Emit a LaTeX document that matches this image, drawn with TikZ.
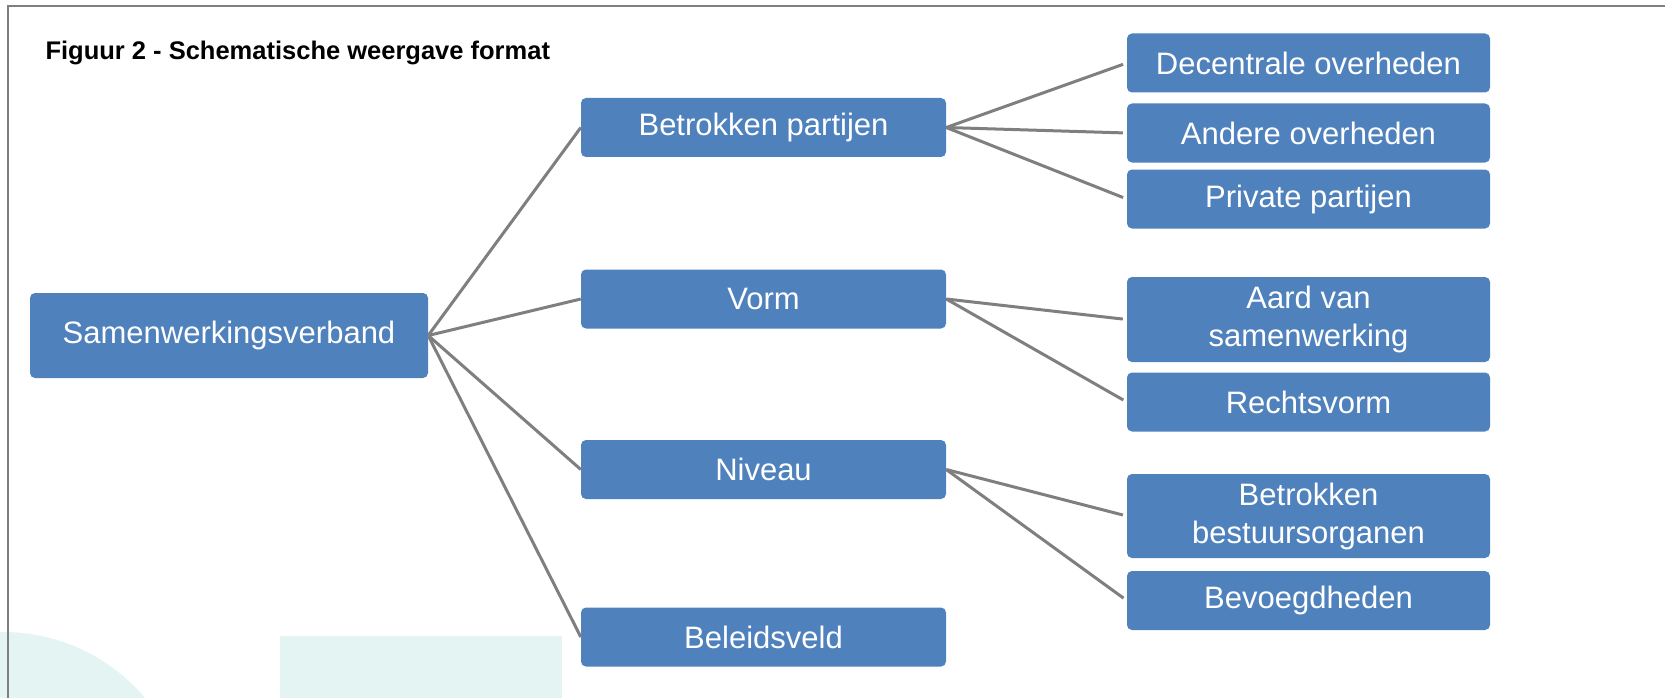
\documentclass[tikz,border=0pt]{standalone}
\usepackage{fontspec}
\setmainfont{Liberation Sans}
\usetikzlibrary{positioning}
\definecolor{boxblue}{HTML}{4F81BD}
\definecolor{linegray}{HTML}{7F7F7F}
\definecolor{bgteal}{HTML}{E3F4F2}

\begin{document}
\begin{tikzpicture}[x=1pt,y=-1pt,
  box/.style={fill=boxblue,text=white,rounded corners=5pt,inner sep=0pt,
    minimum height=59pt,align=center,font=\fontsize{31}{38}\selectfont},
  midbox/.style={box,minimum width=365pt},
  leafbox/.style={box,minimum width=363pt},
  link/.style={draw=linegray,line width=3pt}]
  \clip (0,0) rectangle (1665,698);
  % faint shapes in the background
  \fill[bgteal] (3,818) circle (186pt);
  \fill[bgteal] (280,636) rectangle (562,698);
  % frame
  \draw[linegray,line width=2pt] (8,698) -- (8,6.5) -- (1665,6.5);
  \node[anchor=base west,font=\bfseries\fontsize{25.5}{30}\selectfont] (title) at (42,60) {Figuur 2 - Schematische weergave format};

  \node[box,minimum width=398pt,minimum height=85pt] (root) at (229,335.5) {Samenwerkingsverband};

  \node[midbox] (partijen) at (763.5,127.5) {Betrokken partijen};
  \node[midbox] (vorm) at (763.5,299) {Vorm};
  \node[midbox] (niveau) at (763.5,469.5) {Niveau};
  \node[midbox] (veld) at (763.5,637) {Beleidsveld};

  \node[leafbox] (decentraal) at (1308.5,63) {Decentrale overheden};
  \node[leafbox] (andere) at (1308.5,133) {Andere overheden};
  \node[leafbox] (privaat) at (1308.5,199) {Private partijen};
  \node[leafbox,minimum height=85pt] (aard) at (1308.5,319.5) {Aard van\\samenwerking};
  \node[leafbox] (rechtsvorm) at (1308.5,402) {Rechtsvorm};
  \node[leafbox,minimum height=84pt] (organen) at (1308.5,516) {Betrokken\\bestuursorganen};
  \node[leafbox] (bevoegd) at (1308.5,600.5) {Bevoegdheden};

  \draw[link] (root.east) -- (partijen.west);
  \draw[link] (root.east) -- (vorm.west);
  \draw[link] (root.east) -- (niveau.west);
  \draw[link] (root.east) -- (veld.west);

  \draw[link,shorten >=4pt] (partijen.east) -- (decentraal.west);
  \draw[link,shorten >=4pt] (partijen.east) -- (andere.west);
  \draw[link,shorten >=4pt] (partijen.east) -- (privaat.west);
  \draw[link,shorten >=4pt] (vorm.east) -- (aard.west);
  \draw[link,shorten >=4pt] (vorm.east) -- (rechtsvorm.west);
  \draw[link,shorten >=4pt] (niveau.east) -- (organen.west);
  \draw[link,shorten >=4pt] (niveau.east) -- (bevoegd.west);
\end{tikzpicture}
\end{document}
